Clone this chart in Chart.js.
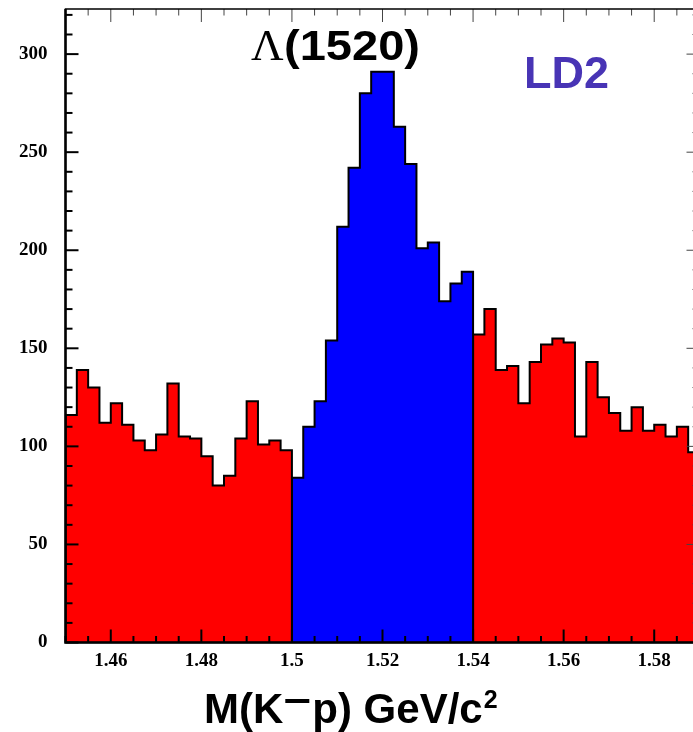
<!DOCTYPE html>
<html>
<head>
<meta charset="utf-8">
<script src="https://cdn.jsdelivr.net/npm/chart.js@4.4.1/dist/chart.umd.min.js"></script>
<style>
  html, body { margin: 0; padding: 0; overflow: hidden; background: #fff; }
  #wrap { width: 701px; height: 732px; }
</style>
</head>
<body>
<div id="wrap"><canvas id="massPlot" width="701" height="732"></canvas></div>
<script>
// M(K-p) spectrum, 2.5 MeV bins starting at 1.45 GeV
const binStart = 1.45;
const binWidth = 0.0025;

// 1.450 - 1.500 (sideband)
const sidebandLow = [116, 139, 130, 112, 122, 111, 103, 98, 106, 132,
                     105, 104, 95, 80, 85, 104, 123, 101, 103, 98];
// 1.500 - 1.540 (signal window)
const signalBins = [84, 110, 123, 154, 212, 242, 280, 291, 291, 263,
                    244, 201, 204, 174, 183, 189];
// 1.540 - 1.590 (sideband)
const sidebandHigh = [157, 170, 139, 141, 122, 143, 152, 155, 153, 105,
                      143, 125, 117, 108, 120, 108, 111, 105, 110, 97];

const xRange = [1.45, 1.59];
const yRange = [0, 323];
const xTickValues = [1.46, 1.48, 1.5, 1.52, 1.54, 1.56, 1.58];
const xTickLabels = ["1.46", "1.48", "1.5", "1.52", "1.54", "1.56", "1.58"];
const yTickValues = [0, 50, 100, 150, 200, 250, 300];
const yTickLabels = ["0", "50", "100", "150", "200", "250", "300"];

// outline of a run of bins as a stepped line, closed down to zero at both ends
function histPoints(firstBin, counts) {
  const lo = binStart + firstBin * binWidth;
  const hi = binStart + (firstBin + counts.length) * binWidth;
  const pts = [{ x: lo, y: 0 }];
  counts.forEach((c, i) => pts.push({ x: binStart + (firstBin + i) * binWidth, y: c }));
  pts.push({ x: hi, y: counts[counts.length - 1] });
  pts.push({ x: hi, y: 0 });
  return pts;
}

function histSet(points, color) {
  return {
    data: points,
    stepped: true,
    fill: "origin",
    backgroundColor: color,
    borderColor: "#000",
    borderWidth: 2,
    borderJoinStyle: "miter",
    pointRadius: 0,
  };
}

const serifBold = { family: "'Liberation Serif', 'DejaVu Serif', serif", size: 19, weight: "bold" };

// frame with ROOT-style inward ticks on all four sides
const framePlugin = {
  id: "frame",
  afterDatasetsDraw(chart) {
    const { ctx, chartArea: a, scales } = chart;
    const x = scales.x, y = scales.y;
    ctx.save();

    for (let i = 0; i <= 28; i++) {
      const px = x.getPixelForValue(xRange[0] + i * 0.005);
      const len = i % 4 === 2 ? 13 : 6.5;
      ctx.strokeStyle = "#000";
      ctx.lineWidth = 2;
      ctx.beginPath();
      ctx.moveTo(px, a.bottom);
      ctx.lineTo(px, a.bottom - len);
      ctx.stroke();
      ctx.strokeStyle = "#444";
      ctx.lineWidth = 1;
      ctx.beginPath();
      ctx.moveTo(px, a.top);
      ctx.lineTo(px, a.top + len);
      ctx.stroke();
    }

    for (let v = 0; v <= 320; v += 10) {
      const py = y.getPixelForValue(v);
      const len = v % 50 === 0 ? 13 : 7;
      ctx.strokeStyle = "#000";
      ctx.lineWidth = 2;
      ctx.beginPath();
      ctx.moveTo(a.left, py);
      ctx.lineTo(a.left + len, py);
      ctx.stroke();
      ctx.strokeStyle = "#444";
      ctx.lineWidth = 1;
      ctx.beginPath();
      ctx.moveTo(a.right, py);
      ctx.lineTo(a.right - len, py);
      ctx.stroke();
    }

    ctx.strokeStyle = "#000";
    ctx.lineWidth = 1.5;
    ctx.strokeRect(a.left, a.top, a.right - a.left, a.bottom - a.top);
    ctx.lineWidth = 2.5;
    ctx.beginPath();
    ctx.moveTo(a.left, a.top);
    ctx.lineTo(a.left, a.bottom);
    ctx.lineTo(a.right, a.bottom);
    ctx.stroke();
    ctx.restore();
  },
};

// title, tag and the axis title with its superscripts
const labelPlugin = {
  id: "labels",
  afterDraw(chart) {
    const ctx = chart.ctx;
    ctx.save();
    ctx.textBaseline = "alphabetic";
    ctx.textAlign = "left";
    ctx.fillStyle = "#000";

    ctx.font = "45px 'Liberation Serif', serif";
    ctx.fillText("\u039B", 251, 60);
    ctx.font = "bold 42px 'Liberation Sans', Arial, sans-serif";
    const w = ctx.measureText("(1520)").width;
    ctx.save();
    ctx.translate(284, 60);
    ctx.scale(136 / w, 1);
    ctx.fillText("(1520)", 0, 0);
    ctx.restore();

    ctx.fillStyle = "rgb(72, 52, 181)";
    ctx.font = "bold 45px 'Liberation Sans', Arial, sans-serif";
    ctx.fillText("LD2", 524, 88);

    ctx.fillStyle = "#000";
    const big = "bold 42px 'Liberation Sans', Arial, sans-serif";
    const small = "bold 25px 'Liberation Sans', Arial, sans-serif";
    const base = 723;
    let cx = 204;
    ctx.font = big;
    ctx.fillText("M(K", cx, base);
    cx += ctx.measureText("M(K").width + 2;
    ctx.fillRect(cx, 699, 24, 4);
    cx += 27;
    ctx.fillText("p) GeV/c", cx, base);
    cx += ctx.measureText("p) GeV/c").width + 1;
    ctx.font = small;
    ctx.fillText("2", cx, 708);
    ctx.restore();
  },
};

new Chart(document.getElementById("massPlot"), {
  type: "line",
  data: {
    datasets: [
      histSet(histPoints(0, sidebandLow), "#ff0000"),
      histSet(histPoints(sidebandLow.length, signalBins), "#0000ff"),
      histSet(histPoints(sidebandLow.length + signalBins.length, sidebandHigh), "#ff0000"),
    ],
  },
  options: {
    responsive: false,
    animation: false,
    layout: { padding: { top: 9, right: 1.5, left: 0, bottom: 0 } },
    plugins: { legend: { display: false }, tooltip: { enabled: false } },
    scales: {
      x: {
        type: "linear",
        min: xRange[0],
        max: xRange[1],
        grid: { display: false, drawTicks: false },
        border: { display: false },
        afterBuildTicks: (s) => { s.ticks = xTickValues.map((v) => ({ value: v })); },
        afterFit: (s) => { s.height = 89.5; s.paddingLeft = 0; s.paddingRight = 0; },
        ticks: {
          font: serifBold,
          color: "#000",
          padding: 7,
          maxRotation: 0,
          autoSkip: false,
          callback: (v, i) => xTickLabels[i],
        },
      },
      y: {
        type: "linear",
        min: yRange[0],
        max: yRange[1],
        grid: { display: false, drawTicks: false },
        border: { display: false },
        afterBuildTicks: (s) => { s.ticks = yTickValues.map((v) => ({ value: v })); },
        afterFit: (s) => { s.width = 65.5; s.paddingTop = 0; s.paddingBottom = 0; },
        ticks: {
          font: serifBold,
          color: "#000",
          padding: 18,
          callback: (v, i) => yTickLabels[i],
        },
      },
    },
  },
  plugins: [framePlugin, labelPlugin],
});
</script>
</body>
</html>
